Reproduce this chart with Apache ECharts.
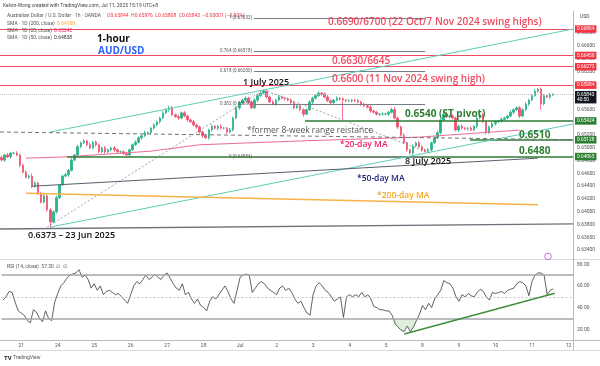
<!DOCTYPE html>
<html><head><meta charset="utf-8">
<script src="https://cdn.jsdelivr.net/npm/echarts@6/dist/echarts.min.js"></script>
<style>html,body{margin:0;padding:0;background:#fff}#c{width:600px;height:366px}</style>
</head><body><div id="c"></div>
<script>
// ---------- data (2-hour bars, AUD/USD) ----------
const dayLabels = ['21','24','25','26','27','28','Jul','2','3','4','5','8','9','10','11','12'];
const dayTickIdx = [6,18,30,42,54,66,78,90,102,114,126,138,150,162,174,186];
const firstOpen = 0.6485;
const closes = [
0.6481,0.6489,0.6486,0.6492,0.6492,0.6489,0.6473,0.6462,0.6454,0.6456,0.6440,0.6445,0.6429,0.6415,0.6425,0.6403,0.6384,0.6400,0.6422,0.6442,
0.6456,0.6458,0.6465,0.6481,0.6489,0.6502,0.6508,0.6511,0.6505,0.6500,0.6509,0.6505,0.6494,0.6500,0.6494,0.6497,0.6500,0.6497,0.6494,0.6494,
0.6491,0.6489,0.6497,0.6505,0.6509,0.6516,0.6519,0.6524,0.6524,0.6531,0.6536,0.6541,0.6547,0.6555,0.6560,0.6563,0.6552,0.6549,0.6547,0.6555,
0.6550,0.6544,0.6541,0.6536,0.6533,0.6525,0.6519,0.6516,0.6528,0.6534,0.6531,0.6534,0.6531,0.6531,0.6525,0.6528,0.6547,0.6563,0.6571,0.6575,
0.6578,0.6572,0.6563,0.6575,0.6582,0.6586,0.6589,0.6580,0.6572,0.6569,0.6575,0.6580,0.6578,0.6577,0.6575,0.6571,0.6563,0.6566,0.6560,0.6553,
0.6560,0.6572,0.6578,0.6582,0.6586,0.6585,0.6580,0.6574,0.6571,0.6575,0.6578,0.6577,0.6575,0.6574,0.6574,0.6575,0.6574,0.6572,0.6569,0.6566,
0.6564,0.6558,0.6556,0.6553,0.6553,0.6553,0.6553,0.6556,0.6560,0.6547,0.6533,0.6520,0.6508,0.6497,0.6492,0.6503,0.6508,0.6502,0.6497,0.6495,
0.6497,0.6508,0.6516,0.6524,0.6544,0.6553,0.6549,0.6550,0.6547,0.6528,0.6534,0.6531,0.6530,0.6531,0.6528,0.6534,0.6547,0.6552,0.6541,0.6524,
0.6533,0.6538,0.6541,0.6542,0.6545,0.6547,0.6550,0.6556,0.6560,0.6563,0.6550,0.6560,0.6569,0.6575,0.6582,0.6589,0.6592,0.6569,0.6582,0.6580,
0.6583,0.6584];
const wickHi = [
3,2,3,2,2,3,2,2,3,2,4,3,2,2,4,2,3,2,3,2,
2,3,2,3,2,3,2,3,2,4,2,3,2,2,3,2,2,3,2,2,
2,3,2,2,3,2,2,3,2,2,3,2,2,3,2,3,3,2,3,2,
3,2,2,3,2,2,2,3,2,3,2,2,3,2,2,3,2,3,2,2,
3,2,2,3,2,2,3,1,2,3,2,3,2,2,2,3,2,2,3,2,
2,3,2,2,3,2,2,3,2,2,3,2,2,2,3,2,2,3,2,2,
2,3,2,2,2,3,2,2,3,4,2,2,3,2,2,3,2,3,2,2,
3,2,2,3,2,4,3,2,3,2,2,3,2,2,3,2,3,2,3,2,
2,3,2,2,3,2,2,3,2,2,3,2,3,2,2,3,2,3,2,2,
3,2];
const wickLo = [
2,3,2,3,2,2,3,2,2,3,3,2,3,2,2,3,11,2,3,2,
2,2,3,2,2,3,2,2,3,2,2,3,2,2,3,2,2,3,2,3,
2,2,3,2,2,2,3,2,2,3,2,2,3,2,2,3,2,2,3,2,
2,3,2,2,3,2,3,2,3,2,2,3,2,2,3,2,2,2,3,2,
2,3,2,2,3,2,2,3,2,2,3,2,2,3,2,2,3,2,2,4,
2,2,3,2,2,3,2,2,3,2,2,3,31,2,2,3,2,2,3,2,
2,3,2,2,3,2,2,3,2,2,3,2,2,3,2,3,2,2,3,2,
2,3,2,2,3,2,2,3,2,2,3,2,2,3,2,2,3,2,2,3,
2,2,3,2,2,3,2,2,3,2,3,2,2,3,2,2,3,9,2,2,
3,2];
const rsi = [
47,50,55,54,45,37,35,33,28,26,38,36,30,27,37,30,28,45,53,60,
63,67,70,71,72,75,68,70,66,58,62,56,60,52,55,56,54,52,53,50,
47,44,52,60,64,62,66,70,66,68,71,68,66,70,72,67,62,58,56,62,
52,54,48,44,48,42,40,37,46,50,48,52,56,60,55,48,44,56,68,70,
71,70,54,58,62,64,62,58,56,54,52,58,60,56,58,54,48,44,46,40,
35,33,52,60,63,60,56,54,50,46,48,50,31,50,52,50,52,50,54,50,
52,48,41,40,38,38,37,37,33,25,22,19,18,23,18,22,28,34,42,38,
44,40,48,52,56,65,63,62,58,50,46,52,50,53,51,50,54,57,55,50,
47,54,53,54,55,53,56,57,58,62,64,63,60,51,64,70,72,72,70,52,
56,57.3];
const rsiFillFrom = 126, rsiFillTo = 137;
const rsiTrend = [[132,15.7],[181.5,53.3]];

const redLevels = [0.66864, 0.66450, 0.66273, 0.65984];
const lastPrice = 0.65843;
const greenLevels = [[99.6,0.65424],[153.7,0.65128],[21.5,0.64865]];
const fibLevels = [['1',0.67032],['0.764',0.66518],['0.618',0.66200],['0.382',0.65686],['0',0.64854]];
const fibSpan = [82.8, 139];
const ma20 = [[8,0.6484],[21,0.6486],[49,0.6495],[65,0.6505],[98,0.6511],[137,0.6517],[170,0.6528]];
const ma50 = [[10,0.6440],[176,0.6484]];
const ma200 = [[8,0.6429],[176,0.6411]];
const channelUp = [[16,0.6525],[187.5,0.66864]];
const channelDn = [[16,0.6376],[187.5,0.65375]];
const fibPath1 = [[15,0.6376],[86,0.6591]];
const fibPath2 = [[86,0.6591],[140.5,0.6492]];
const rangeRes = [[-0.5,0.6525],[187.5,0.6513]];
const lowLine = [[-0.5,0.6373],[187.5,0.6381]];

// ---------- build ----------
const N = 188, XMIN = -0.5, XMAX = N - 0.5;
const cats = new Array(N).fill('');
dayTickIdx.forEach((ix,k)=>{ cats[ix] = dayLabels[k]; });
const candles = closes.map((c,i)=>{
  const o = i===0 ? firstOpen : closes[i-1];
  const lo = Math.min(o,c) - wickLo[i]/1e4, hi = Math.max(o,c) + wickHi[i]/1e4;
  return [i, o, c, +lo.toFixed(5), +hi.toFixed(5)];
});
const RED='#ef4a5f', GREEN='#2e7d32', TEAL='#5ccfb6', GREY='#787b86';
const badge = (bg, txt) => ({show:true, position:'end', distance:2, formatter:txt,
  color:'#fff', backgroundColor:bg, padding:[1.5,2,1,2], fontSize:4.8, fontFamily:'Roboto'});
const seg = (pts, color, width, type, label) => [
  {coord:pts[0], lineStyle:{color, width, type}, label: label || {show:false}}, {coord:pts[1]}];

const mlData = [];
redLevels.forEach(v=> mlData.push(seg([[XMIN,v],[XMAX,v]], RED, 1.2, 'solid', badge('#f23645', v.toFixed(5)))));
mlData.push(seg([[XMIN,lastPrice],[XMAX,lastPrice]], '#c3c6ce', 1, [1,1],
  Object.assign(badge('#131722', lastPrice.toFixed(5)+'\n40:50'),{lineHeight:5, offset:[0,3]})));
greenLevels.forEach(g=> mlData.push(seg([[g[0],g[1]],[XMAX,g[1]]], GREEN, 1.6, 'solid', badge('#2e7d32', g[1].toFixed(5)))));
fibLevels.forEach(f=> mlData.push(seg([[fibSpan[0],f[1]],[fibSpan[1],f[1]]], GREY, 1, 'solid')));
mlData.push(seg(channelUp, TEAL, 1, 'solid'));
mlData.push(seg(channelDn, TEAL, 1, 'solid'));
mlData.push(seg(fibPath1, '#8a8d96', 0.8, [2,2]));
mlData.push(seg(fibPath2, '#8a8d96', 0.8, [2,2]));
mlData.push(seg(rangeRes, '#6f727c', 1, [4,3]));
mlData.push(seg(lowLine, '#6f727c', 1.3, 'solid'));
mlData.push(seg(ma50, '#5a5f6e', 1, 'solid'));
mlData.push(seg(ma200, '#f7b24a', 1.3, 'solid'));

const F = '"Open Sans", sans-serif';
const T = (x,y,text,fill,font,align) => ({type:'text', x, y, z:100, silent:true,
  style:{text, fill, font, align: align||'left', verticalAlign:'middle'}});
const L = (x1,y1,x2,y2,stroke,w) => ({type:'line', z:90, silent:true, shape:{x1,y1,x2,y2}, style:{stroke, lineWidth:w||1}});
const small = '5px Roboto';
const graphics = [
  L(0,259.5,600,259.5,'#d9dbe1'), L(0,340.5,600,340.5,'#b8bbc4'), L(0,350.5,600,350.5,'#d9dbe1'), L(573.5,11,573.5,350,'#b8bbc4'),
  T(3,6,'Kelvin-Wong created with TradingView.com, Jul 11, 2025 15:19 UTC+8','#444',small),
  T(7,16,'Australian Dollar / U.S. Dollar · 1h · OANDA','#555',small),
  T(107,16,'O0.65844  H0.65876  L0.65808  C0.65843  −0.00001 (−0.00%)','#f23645',small),
  T(7,24,'SMA · 1D (200, close)','#555',small), T(57,24,'0.64100','#f7a933',small),
  T(7,31,'SMA · 1D (20, close)','#555',small), T(54,31,'0.65242','#e91e63',small),
  T(7,38,'SMA · 1D (50, close)','#555',small), T(54,38,'0.64838','#333',small),
  T(97,39,'1-hour','#111','bold 10px '+F), T(98,51,'AUD/USD','#2962ff','bold 10px '+F),
  T(328,22,'0.6690/6700 (22 Oct/7 Nov 2024 swing highs)',RED,'600 10px '+F),
  T(332,61,'0.6630/6645',RED,'600 10px '+F),
  T(332,79,'0.6600 (11 Nov 2024 swing high)',RED,'600 10px '+F),
  T(243,82.5,'1 July 2025','#111','600 9px '+F),
  T(405,114,'0.6540 (ST pivot)',GREEN,'bold 10px '+F),
  T(247,131,'*former 8-week range reistance','#555','8.5px '+F),
  T(340,145,'*20-day MA','#e91e63','600 8.5px '+F),
  T(519,135,'0.6510',GREEN,'bold 10px '+F), T(519,151,'0.6480',GREEN,'bold 10px '+F),
  T(405,161,'8 July 2025','#111','600 9px '+F),
  T(357,179,'*50-day MA','#1a237e','600 8.5px '+F),
  T(377,196,'*200-day MA','#f5a623','600 8.5px '+F),
  T(28,235,'0.6373 – 23 Jun 2025','#111','600 9px '+F),
  T(580,17,'USD','#444',small),
  T(7,267,'RSI (14, close)  57.30  ∅  ∅','#555',small),
  T(4,358,'TV','#131722','bold 6px Roboto'), T(13,358,'TradingView','#555','5px Roboto'),
  {type:'circle', z:100, silent:true, shape:{cx:548,cy:256.5,r:3.3}, style:{fill:'none',stroke:'#b04fd0',lineWidth:0.8}},
];
const fibY = v => 29 + (0.66864 - v)*6380;
fibLevels.forEach(f=> graphics.push(T(252, fibY(f[1]), f[0]+' ('+f[1].toFixed(5)+')','#555','4.5px Roboto','right')));

const hideMain = [0.632, 0.670, 0.672];
const option = {
  animation:false, backgroundColor:'#fff',
  grid:[{left:0,right:27,top:7.6,bottom:366-262.8},{left:0,right:27,top:242.6,bottom:15}],
  xAxis:[
    {type:'value', gridIndex:0, min:XMIN, max:XMAX, show:false},
    {type:'value', gridIndex:1, min:XMIN, max:XMAX, show:false},
    {type:'category', gridIndex:1, data:cats, position:'bottom', offset:-11, boundaryGap:true,
      axisLine:{show:false}, axisTick:{show:false}, splitLine:{show:false},
      axisLabel:{interval:0, fontSize:5, color:'#555', margin:3, fontFamily:'Roboto'}}
  ],
  yAxis:[
    {type:'value', gridIndex:0, min:0.632, max:0.672, interval:0.002, position:'right',
      axisLine:{show:false}, axisTick:{show:false}, splitLine:{show:false},
      axisLabel:{fontSize:5, color:'#555', margin:4, fontFamily:'Roboto',
        formatter:v=> hideMain.some(h=>Math.abs(h-v)<1e-7) ? '' : v.toFixed(5)}},
    {type:'value', gridIndex:1, min:0, max:100, interval:20, position:'right',
      axisLine:{show:false}, axisTick:{show:false}, splitLine:{show:false},
      axisLabel:{fontSize:5, color:'#555', margin:4, fontFamily:'Roboto',
        formatter:v=> (v===0||v===100) ? '' : v.toFixed(2)}}
  ],
  series:[
    {type:'line', xAxisIndex:0, yAxisIndex:0, data:[], silent:true,
      markLine:{symbol:['none','none'], silent:true, animation:false, label:{show:false}, data:mlData}},
    {type:'line', xAxisIndex:0, yAxisIndex:0, data:ma20, symbol:'none', silent:true,
      lineStyle:{color:'#ec6c95', width:1}},
    {type:'candlestick', xAxisIndex:0, yAxisIndex:0, data:candles, encode:{x:0,y:[1,2,3,4]},
      barWidth:2, silent:true,
      itemStyle:{color:'#2bb38a', color0:'#ef5370', borderColor:'#2bb38a', borderColor0:'#ef5370', borderWidth:0.8}},
    {type:'line', xAxisIndex:1, yAxisIndex:1, silent:true, symbol:'none',
      data: rsi.map((v,i)=>[i,v]).filter(p=>p[0]>=rsiFillFrom && p[0]<=rsiFillTo).map(p=>[p[0],Math.min(p[1],30)]),
      lineStyle:{width:0}, areaStyle:{origin:30, color:'rgba(76,175,80,0.28)'}},
    {type:'line', xAxisIndex:1, yAxisIndex:1, silent:true, symbol:'none',
      data: rsi.map((v,i)=>[i,v]), lineStyle:{color:'#3a3a3a', width:0.8},
      markLine:{symbol:['none','none'], silent:true, animation:false, label:{show:false}, data:[
        [{coord:[XMIN,70], lineStyle:{color:'#a3a6ad', width:1.5, type:'solid'}},{coord:[XMAX,70]}],
        [{coord:[XMIN,30], lineStyle:{color:'#a3a6ad', width:1.5, type:'solid'}},{coord:[XMAX,30]}],
        [{coord:[XMIN,50], lineStyle:{color:'#b8bbc2', width:0.8, type:[2,2]}},{coord:[XMAX,50]}],
        [{coord:rsiTrend[0], lineStyle:{color:'#3f8f3f', width:1.5, type:'solid'}},{coord:rsiTrend[1]}]
      ]}}
  ],
  graphic: graphics
};
const chart = echarts.init(document.getElementById('c'), null, {renderer:'canvas'});
chart.setOption(option);
</script></body></html>
